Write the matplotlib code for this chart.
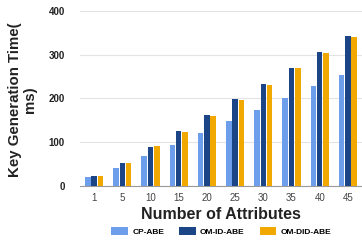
import numpy as np
import matplotlib
matplotlib.use('Agg')
import matplotlib.pyplot as plt

#- data
attributes = ['1', '5', '10', '15', '20', '25', '30', '35', '40', '45']
cp_abe     = [20, 42, 68, 94, 122, 149, 174, 201, 228, 254]
om_id_abe  = [23, 52, 89, 126, 162, 199, 233, 270, 306, 343]
om_did_abe = [23, 52, 91, 124, 159, 197, 231, 270, 305, 341]

plt.rcParams['font.family'] = ['Liberation Sans', 'DejaVu Sans']

fig = plt.figure(figsize=(3.62, 2.42), dpi=100)
ax = fig.add_axes([0.221, 0.231, 0.779, 0.724])

x = np.arange(len(attributes))
w = 0.195; step = 0.222
ax.bar(x - step, cp_abe, w, color='#6d9eeb', label='CP-ABE', zorder=3)
ax.bar(x, om_id_abe, w, color='#1c4587', label='OM-ID-ABE', zorder=3)
ax.bar(x + step, om_did_abe, w, color='#f1a800', label='OM-DID-ABE', zorder=3)

ax.set_xlim(-0.5, len(attributes) - 0.5)
ax.set_ylim(0, 400)
ax.set_yticks([0, 100, 200, 300, 400])
ax.set_yticklabels(['0', '100', '200', '300', '400'], fontsize=7, fontweight='bold', color='#222222')
ax.set_xticks(x)
ax.set_xticklabels(attributes, fontsize=7, color='#444444')
ax.tick_params(axis='both', length=0)
ax.tick_params(axis='y', pad=11)
ax.tick_params(axis='x', pad=5)
ax.grid(axis='y', color='#e3e3e3', linewidth=0.8, zorder=0)
for s in ['top', 'right', 'left']:
    ax.spines[s].set_visible(False)
ax.spines['bottom'].set_color('#9a9a9a')
ax.spines['bottom'].set_linewidth(0.8)

ax.set_xlabel('Number of Attributes', fontsize=11.5, fontweight='bold', color='#222222', labelpad=3)
fig.text(0.062, 0.59, 'Key Generation Time(\nms)', rotation=90, fontsize=10.8, fontweight='bold',
         ha='center', va='center', multialignment='center', color='#222222', linespacing=1.15)

leg = fig.legend(loc='center', bbox_to_anchor=(0.611, 0.045), ncol=3, frameon=False,
                 prop={'size': 6, 'weight': 'bold'}, handlelength=2.0, handleheight=1.2,
                 columnspacing=1.8, handletextpad=0.5)

plt.savefig('out.png', dpi=100)
